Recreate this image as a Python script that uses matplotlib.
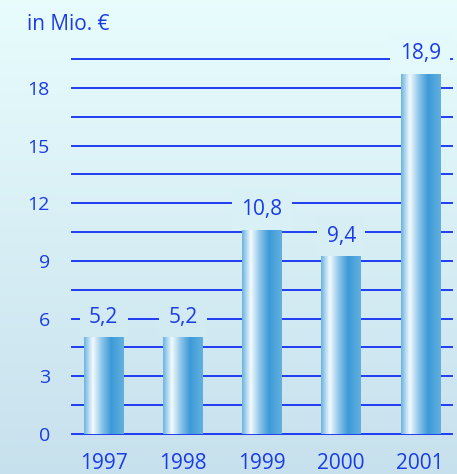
import numpy as np
import matplotlib
matplotlib.use('Agg')
import matplotlib.pyplot as plt
from matplotlib.colors import LinearSegmentedColormap

plt.rcParams['font.family'] = ['Open Sans', 'DejaVu Sans']

# Data
years = ['1997', '1998', '1999', '2000', '2001']
values = [5.2, 5.2, 10.8, 9.4, 18.9]
value_labels = ['5,2', '5,2', '10,8', '9,4', '18,9']
yticks = [0, 3, 6, 9, 12, 15, 18]

text_blue = '#1a3ce8'
line_blue = '#1f3df2'
bg_top = np.array([0.91, 0.99, 0.99])
bg_bottom = np.array([0.78, 0.88, 0.93])

def bg_color(f):
    # f = figure fraction from bottom
    return tuple(bg_bottom + (bg_top - bg_bottom) * f)

fig = plt.figure(figsize=(4.57, 4.74), dpi=100)

# background gradient
bg = fig.add_axes([0, 0, 1, 1], zorder=-10)
grad = np.linspace(1, 0, 256)[:, None, None]
img = bg_bottom + (bg_top - bg_bottom) * grad
img = np.repeat(img, 2, axis=1)
bg.imshow(img, aspect='auto', extent=[0, 1, 0, 1])
bg.axis('off')

ax_left, ax_bottom, ax_w, ax_h = 0.1575, 0.0844, 0.8315, 0.791
ax = fig.add_axes([ax_left, ax_bottom, ax_w, ax_h])
ax.patch.set_alpha(0)

# horizontal rules
for y in np.arange(0, 19.6, 1.5):
    ax.axhline(y, color=line_blue, lw=1.4, zorder=1, clip_on=False)

# cylinder-like bars
bar_cmap = LinearSegmentedColormap.from_list('cyl', [
    (0.0, '#6cb4e0'), (0.22, '#f4fbff'), (0.45, '#8cc4e8'),
    (0.68, '#3c9ad8'), (1.0, '#62b0de')])
shade = np.linspace(0, 1, 200)[None, :]
x = np.arange(len(years))
bars = ax.bar(x, values, width=0.5, color='none', zorder=3)
for b in bars:
    x0, w, h = b.get_x(), b.get_width(), b.get_height()
    im = ax.imshow(shade, cmap=bar_cmap, aspect='auto',
                   extent=[x0, x0 + w, 0, h], zorder=3)
    im.set_clip_path(b)
ax.set_xlim(-0.4, 4.4)
ax.set_ylim(0, 19.5)

# value labels with background-coloured boxes over the rules
for xi, v, lab in zip(x, values, value_labels):
    fy = ax_bottom + ax_h * v / 19.5 + 0.036
    ax.annotate(lab, (xi, v), xytext=(0, 12), textcoords='offset points',
                ha='center', va='center', fontsize=15, color=text_blue,
                zorder=5, annotation_clip=False,
                bbox=dict(boxstyle='square,pad=0.45', fc=bg_color(fy), ec='none'))

ax.set_xticks(x)
ax.set_xticklabels(years, fontsize=15, color=text_blue)
ax.set_yticks(yticks)
ax.set_yticklabels([str(t) for t in yticks], fontsize=14, color=text_blue)
ax.tick_params(axis='both', length=0)
ax.tick_params(axis='y', pad=16)
ax.tick_params(axis='x', pad=14)
for s in ax.spines.values():
    s.set_visible(False)

fig.text(27 / 457, 1 - 25 / 474, 'in Mio. €', fontsize=15, color=text_blue,
         ha='left', va='center')

fig.savefig('out.png', dpi=100)
